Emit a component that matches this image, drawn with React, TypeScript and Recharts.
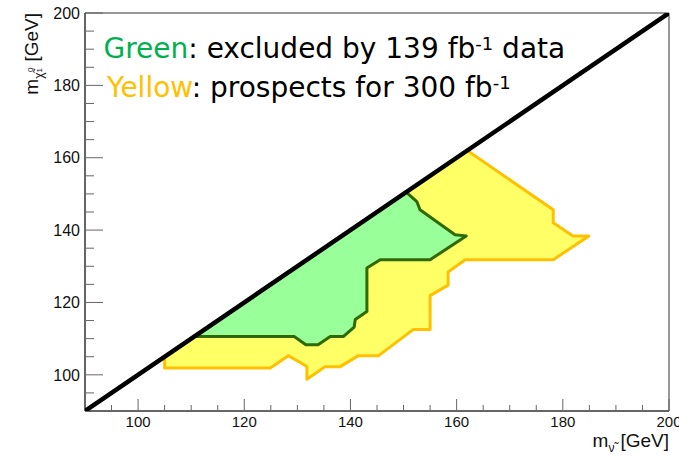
import { ScatterChart, Scatter, XAxis, YAxis, ReferenceArea } from "recharts";

// axis ticks (every 5 GeV, labelled every 20)
const X_TICKS = [95, 100, 105, 110, 115, 120, 125, 130, 135, 140, 145, 150, 155, 160, 165, 170, 175, 180, 185, 190, 195, 200];
const Y_TICKS = [95, 100, 105, 110, 115, 120, 125, 130, 135, 140, 145, 150, 155, 160, 165, 170, 175, 180, 185, 190, 195, 200];
const MAJOR = [100, 120, 140, 160, 180, 200];

// kinematic limit m(chi) = m(sneutrino)
const DIAG_X = [90, 200];
const DIAG_Y = [90, 200];

// yellow: 300 fb-1 prospects contour
const YELLOW_X = [162, 178.2, 178.2, 181.9, 184.9, 178.2, 161.6, 158.4, 158.4, 155, 155, 151.8, 145.3, 141.5, 138, 135.2, 131.8, 131.8, 128.3, 124.9, 105, 105, 162];
const YELLOW_Y = [162, 145.6, 142, 138.4, 138.4, 131.8, 131.8, 128.4, 124.8, 121.9, 112.5, 112.5, 105.3, 105.3, 102.2, 102.2, 98.8, 102.3, 105.3, 101.9, 101.9, 105, 162];

// green: excluded by 139 fb-1
const GREEN_X = [110.6, 129.4, 131.6, 133.9, 136.2, 138.7, 140.7, 140.9, 143.1, 143.1, 145.6, 155, 161.8, 159.7, 153.1, 152.5, 150.5, 110.6];
const GREEN_Y = [110.6, 110.6, 108.3, 108.3, 110.6, 110.6, 113.2, 115.3, 117.5, 129.5, 131.8, 131.8, 138.4, 138.7, 145.6, 147.9, 150.5, 110.6];

const zip = (xs: number[], ys: number[]) => xs.map((x, i) => ({ x, y: ys[i] }));

const AXIS_FONT = "'Liberation Sans', Arial, sans-serif";
const LEGEND_FONT = "'DejaVu Sans', Verdana, sans-serif";

function polygon(fill: string, stroke: string, width: number) {
  return (props: any) => {
    const pts = (props.points || []).map((p: any) => `${p.x},${p.y}`).join(" ");
    return <polygon points={pts} fill={fill} stroke={stroke} strokeWidth={width} strokeLinejoin="round" />;
  };
}

function polyline(stroke: string, width: number) {
  return (props: any) => {
    const pts = (props.points || []).map((p: any) => `${p.x},${p.y}`).join(" ");
    return <polyline points={pts} fill="none" stroke={stroke} strokeWidth={width} />;
  };
}

function XTick(props: any) {
  const { x, y, payload } = props;
  const major = MAJOR.includes(payload.value);
  return (
    <g>
      <line x1={x} x2={x} y1={y} y2={y - (major ? 12 : 6)} stroke="#666" />
      {major && (
        <text x={x} y={y + 16} textAnchor="middle" fontSize={15} fill="#111" fontFamily={AXIS_FONT}>
          {payload.value}
        </text>
      )}
    </g>
  );
}

function YTick(props: any) {
  const { x, y, payload } = props;
  const major = MAJOR.includes(payload.value);
  return (
    <g>
      <line x1={x} x2={x + (major ? 18 : 9)} y1={y} y2={y} stroke="#666" />
      {major && (
        <text x={x - 5} y={y} dy="0.36em" textAnchor="end" fontSize={16} fill="#111" fontFamily={AXIS_FONT}>
          {payload.value}
        </text>
      )}
    </g>
  );
}

const noDot = () => <g />;

export default function App() {
  return (
    <div style={{ position: "absolute", left: 0, top: 0, width: 679, height: 456, background: "#fff" }}>
      <ScatterChart width={679} height={456} margin={{ top: 13, right: 10, bottom: 0, left: 0 }}>
        <XAxis
          type="number"
          dataKey="x"
          domain={[90, 200]}
          ticks={X_TICKS}
          interval={0}
          tickSize={0}
          tickMargin={0}
          tick={<XTick />}
          height={45}
          axisLine={{ stroke: "#333" }}
          allowDataOverflow
        />
        <YAxis
          type="number"
          dataKey="y"
          domain={[90, 200]}
          ticks={Y_TICKS}
          interval={0}
          tickSize={0}
          tickMargin={0}
          tick={<YTick />}
          width={85}
          axisLine={{ stroke: "#333" }}
          allowDataOverflow
        />
        <Scatter
          data={zip(YELLOW_X, YELLOW_Y)}
          line={polygon("#ffff66", "#ffc000", 3)}
          shape={noDot}
          isAnimationActive={false}
        />
        <Scatter
          data={zip(GREEN_X, GREEN_Y)}
          line={polygon("#99ff99", "#2f6a00", 3)}
          shape={noDot}
          isAnimationActive={false}
        />
        <Scatter
          data={zip(DIAG_X, DIAG_Y)}
          line={polyline("#000", 4.5)}
          shape={noDot}
          isAnimationActive={false}
        />
        <ReferenceArea x1={90} x2={200} y1={90} y2={200} fill="none" stroke="#333" strokeWidth={1} ifOverflow="visible" />
      </ScatterChart>
      <svg width={679} height={456} style={{ position: "absolute", left: 0, top: 0, pointerEvents: "none" }}>
        <text x={103.5} y={58} fontSize={28} fontFamily={LEGEND_FONT} fill="#000">
          <tspan fill="#00b050">Green</tspan>
          <tspan>: excluded by 139 fb</tspan>
          <tspan fontSize={18} dy={-8}>-1</tspan>
          <tspan dy={8}> data</tspan>
        </text>
        <text x={107} y={97} fontSize={28} fontFamily={LEGEND_FONT} fill="#000">
          <tspan fill="#ffc000">Yellow</tspan>
          <tspan>: prospects for 300 fb</tspan>
          <tspan fontSize={18} dy={-8}>-1</tspan>
        </text>
        <text x={669} y={447} textAnchor="end" fontSize={19} fontFamily={AXIS_FONT} fill="#111">
          <tspan>m</tspan>
          <tspan fontSize={12} dy={5}>{"\u03BD\u0303"}</tspan>
          <tspan dx={6} dy={-5}>[GeV]</tspan>
        </text>
        <text transform="translate(38,13) rotate(-90)" textAnchor="end" fontSize={19} fontFamily={AXIS_FONT} fill="#111">
          <tspan>m</tspan>
          <tspan fontSize={12} dy={5}>{"\u03C7\u0303"}</tspan>
          <tspan fontSize={8} dy={-1}>1</tspan>
          <tspan fontSize={8} dx={-4} dy={-9}>0</tspan>
          <tspan dx={6} dy={5}>[GeV]</tspan>
        </text>
      </svg>
    </div>
  );
}
